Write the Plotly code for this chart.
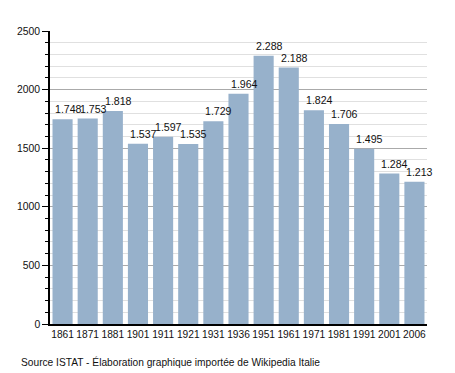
import plotly.graph_objects as go

years = ["1861", "1871", "1881", "1901", "1911", "1921", "1931", "1936",
         "1951", "1961", "1971", "1981", "1991", "2001", "2006"]
population = [1748, 1753, 1818, 1537, 1597, 1535, 1729, 1964,
              2288, 2188, 1824, 1706, 1495, 1284, 1213]
y_ticks = [0, 500, 1000, 1500, 2000, 2500]
source_text = "Source ISTAT - Élaboration graphique importée de Wikipedia Italie"

FONT = "Liberation Sans, Arial, sans-serif"
W, H = 455, 373
ML, MR, MT, MB = 50, 28, 31, 49

def it_fmt(v):
    return f"{v:,}".replace(",", ".")

fig = go.Figure()
fig.add_trace(go.Bar(
    x=years, y=population,
    marker=dict(color="#97b1cb", line=dict(width=0)),
    hoverinfo="x+y",
))

# value labels: category axis index positions (numeric-looking names would be read as indices)
for i, v in enumerate(population):
    fig.add_annotation(
        x=i, y=v, xref="x", yref="y",
        text=it_fmt(v), showarrow=False,
        xanchor="left", yanchor="bottom",
        xshift=-10, yshift=2,
        font=dict(family=FONT, size=10.6, color="#111"),
    )

pw, ph = W - ML - MR, H - MT - MB
fig.add_annotation(
    x=(19 - ML) / pw, y=-(362 - (H - MB)) / ph, xref="paper", yref="paper",
    text=source_text, showarrow=False, xanchor="left", yanchor="middle",
    font=dict(family=FONT, size=10.2, color="#111"),
)

fig.update_layout(
    width=W, height=H,
    margin=dict(l=ML, r=MR, t=MT, b=MB),
    paper_bgcolor="white", plot_bgcolor="white",
    bargap=0.2,
    showlegend=False,
    font=dict(family=FONT, size=10.4, color="#111"),
    xaxis=dict(
        type="category",
        range=[-0.5, len(years) - 0.5],
        showline=True, linecolor="black", linewidth=1.5,
        ticks="", showgrid=False, tickangle=0,
        tickfont=dict(family=FONT, size=10.2, color="#111"),
    ),
    yaxis=dict(
        range=[0, 2500],
        tickvals=y_ticks,
        showline=True, linecolor="black", linewidth=1.5,
        ticks="outside", ticklen=6, tickcolor="black", tickwidth=1,
        showgrid=True, gridcolor="#aaaaaa", gridwidth=1,
        zeroline=False,
        minor=dict(dtick=100, showgrid=True, gridcolor="#e0e0e0", gridwidth=1,
                   ticks="outside", ticklen=3, tickcolor="black"),
        tickfont=dict(family=FONT, size=10.4, color="#111"),
    ),
)

fig.write_html("out.html", config={"displayModeBar": False},
               post_script="document.body.style.margin='0';document.body.style.overflow='hidden';")
